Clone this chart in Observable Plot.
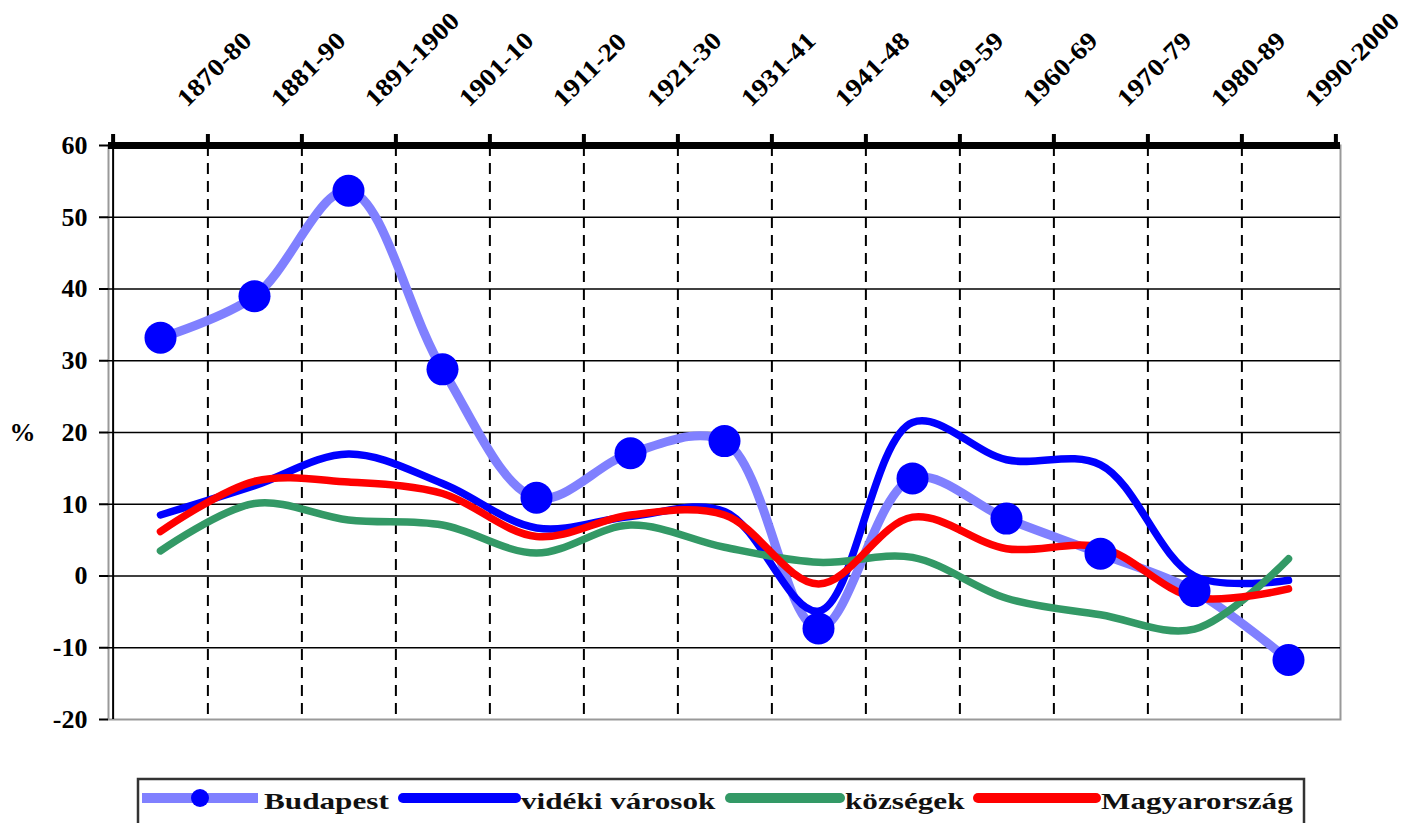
<!DOCTYPE html>
<html>
<head>
<meta charset="utf-8">
<script src="https://cdn.jsdelivr.net/npm/d3@7"></script>
<script src="https://cdn.jsdelivr.net/npm/@observablehq/plot@0.6"></script>
<style>
  html, body { margin: 0; padding: 0; background: #fff; }
  #chart { position: relative; width: 1412px; }
  svg { display: block; }
  svg text { font-family: "Liberation Serif", "Times New Roman", serif !important; }
</style>
</head>
<body>
<div id="chart"></div>
<script>
const categories = ["1870-80","1881-90","1891-1900","1901-10","1911-20","1921-30","1931-41","1941-48","1949-59","1960-69","1970-79","1980-89","1990-2000"];
const budapest      = [33.2, 39.0, 53.7, 28.8, 10.9, 17.1, 18.8, -7.3, 13.6, 8.0, 3.1, -2.1, -11.7];
const videkiVarosok = [8.5, 12.6, 17.0, 12.9, 6.7, 8.3, 9.0, -4.9, 21.4, 16.2, 15.5, 0.0, -0.6];
const kozsegek      = [3.5, 10.1, 7.8, 7.1, 3.2, 7.1, 4.0, 1.9, 2.6, -3.1, -5.4, -7.4, 2.4];
const magyarorszag  = [6.2, 13.2, 13.1, 11.5, 5.5, 8.5, 8.5, -1.1, 8.2, 3.8, 4.0, -3.0, -1.8];
const seriesNames = ["Budapest", "vidéki városok", "községek", "Magyarország"];
const seriesColors = ["#8080ff", "#0000ff", "#339966", "#ff0000"];
const yTicks = [60, 50, 40, 30, 20, 10, 0, -10, -20];

const W = 1412, H = 770, ML = 108, MR = 72, MT = 145, MB = 51;
const step = (W - ML - MR) / categories.length;

const rows = (vals) => categories.map((c, i) => ({cat: c, v: vals[i]}));
const bud = rows(budapest), vid = rows(videkiVarosok), koz = rows(kozsegek), mag = rows(magyarorszag);

const serif = "Liberation Serif";

const plot = Plot.plot({
  width: W, height: H,
  marginTop: MT, marginBottom: MB, marginLeft: ML, marginRight: MR,
  style: {fontFamily: serif, fontSize: "26px", fontWeight: "bold", color: "#000", background: "#fff"},
  x: {type: "point", domain: categories, padding: 0.5, axis: null},
  y: {domain: [-20, 60], axis: null},
  marks: [
    Plot.frame({stroke: "#999", strokeWidth: 2}),
    Plot.ruleY(yTicks.filter(t => t > -20 && t < 60), {stroke: "#000", strokeWidth: 1.6}),
    Plot.ruleX(categories.slice(0, -1), {x: d => d, dx: step / 2, stroke: "#000", strokeWidth: 2, strokeDasharray: "11,7"}),
    Plot.ruleX([categories[0]], {x: d => d, dx: -step / 2, stroke: "#000", strokeWidth: 2}),
    Plot.axisY({ticks: yTicks, tickFormat: d => String(d), tickSize: 9, tickPadding: 12, stroke: "#000", strokeWidth: 2, fontSize: 26, fontWeight: "bold", label: null}),
    Plot.text(["%"], {frameAnchor: "left", dx: -86, textAnchor: "middle", fontSize: 26, fontWeight: "bold"}),
    // thick top axis
    Plot.ruleY([60], {stroke: "#000", strokeWidth: 7}),
    Plot.ruleX(categories, {x: d => d, dx: step / 2, y1: 60, y2: 60, insetTop: -11, stroke: "#000", strokeWidth: 4}),
    Plot.ruleX([categories[0]], {x: d => d, dx: -step / 2, y1: 60, y2: 60, insetTop: -11, stroke: "#000", strokeWidth: 4}),
    Plot.text(categories, {x: d => d, frameAnchor: "top", dx: 14, dy: -50, rotate: -45, textAnchor: "start", fontSize: 25, fontWeight: "bold"}),
    // series
    Plot.line(bud, {x: "cat", y: "v", stroke: seriesColors[0], strokeWidth: 9, curve: "catmull-rom"}),
    Plot.line(vid, {x: "cat", y: "v", stroke: seriesColors[1], strokeWidth: 7.5, curve: "catmull-rom"}),
    Plot.line(koz, {x: "cat", y: "v", stroke: seriesColors[2], strokeWidth: 7.5, curve: "catmull-rom"}),
    Plot.line(mag, {x: "cat", y: "v", stroke: seriesColors[3], strokeWidth: 7.5, curve: "catmull-rom"}),
    Plot.dot(bud, {x: "cat", y: "v", r: 16, fill: "#0000ff", stroke: "none"})
  ]
});
const ps = d3.select(plot);
ps.selectAll("text").attr("font-family", serif).style("font-family", serif);
ps.selectAll("text").each(function () {
  const t = this.getAttribute("transform") || "";
  const gt = (this.parentNode && this.parentNode.getAttribute && this.parentNode.getAttribute("transform")) || "";
  if (t.includes("rotate(")) this.setAttribute("transform", t + " scale(1.12,1)");
  else if (gt.includes("rotate(")) this.setAttribute("transform", (t ? t + " " : "") + "scale(1.12,1)");
});
document.getElementById("chart").appendChild(plot);

// legend below the chart
const leg = d3.create("svg").attr("width", W).attr("height", 53);
leg.append("rect").attr("x", 138).attr("y", 9).attr("width", 1166).attr("height", 60)
  .attr("fill", "#fff").attr("stroke", "#333").attr("stroke-width", 2.5);
const items = [
  {x1: 142, x2: 258, tx: 264},
  {x1: 403, x2: 516, tx: 521},
  {x1: 730, x2: 840, tx: 845},
  {x1: 978, x2: 1096, tx: 1101}
];
items.forEach((it, i) => {
  leg.append("line").attr("x1", it.x1).attr("x2", it.x2).attr("y1", 28).attr("y2", 28)
    .attr("stroke", seriesColors[i]).attr("stroke-width", 10)
    .attr("stroke-linecap", i === 0 ? "butt" : "round");
  if (i === 0) leg.append("circle").attr("cx", (it.x1 + it.x2) / 2).attr("cy", 28).attr("r", 9).attr("fill", "#0000ff");
  leg.append("text").attr("transform", `translate(${it.tx},39) scale(1.3,1)`)
    .attr("font-family", serif).style("font-family", serif).attr("font-weight", "bold")
    .attr("font-size", 24).attr("fill", "#111").text(seriesNames[i]);
});
document.getElementById("chart").appendChild(leg.node());
</script>
</body>
</html>
